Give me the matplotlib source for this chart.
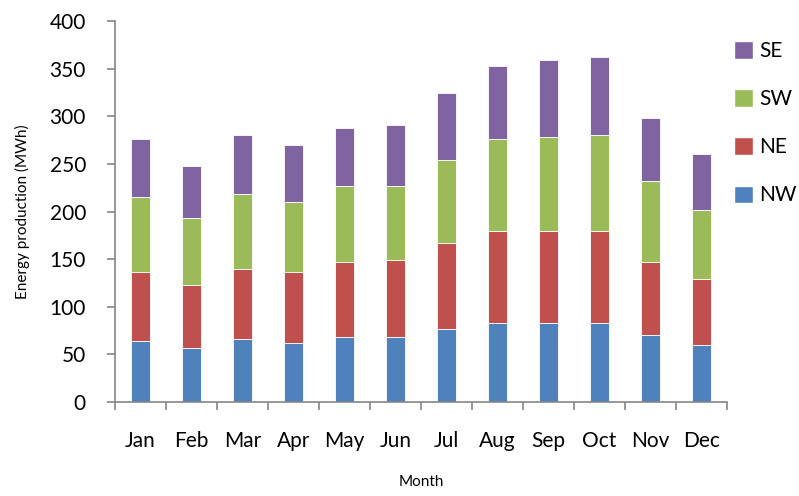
import matplotlib.pyplot as plt
import numpy as np
from matplotlib.patches import Patch

plt.rcParams['font.family'] = ['Lato', 'DejaVu Sans']

months = ['Jan', 'Feb', 'Mar', 'Apr', 'May', 'Jun',
          'Jul', 'Aug', 'Sep', 'Oct', 'Nov', 'Dec']
# MWh per orientation (stacked from bottom: NW, NE, SW, SE)
nw = [64, 57, 66, 62, 68.5, 68.5, 77, 83, 83, 83, 70, 59.5]
ne = [72, 66, 74, 74.5, 79, 81, 90, 97, 97, 97, 77, 70]
sw = [79, 70, 78, 74, 79, 77, 87, 96, 98, 100, 85, 72]
se = [61, 55, 62, 59, 61.5, 64, 70, 77, 81, 82, 66, 59]

series = [('NW', nw, '#4F81BD'), ('NE', ne, '#C0504D'),
          ('SW', sw, '#9BBB59'), ('SE', se, '#8064A2')]

fig = plt.figure(figsize=(7.99, 4.96), dpi=100)
ax = fig.add_axes([0.144, 0.1895, 0.766, 0.768])

x = np.arange(len(months))
bottom = np.zeros(len(months))
for name, vals, col in series:
    vals = np.array(vals)
    ax.bar(x, vals, 0.37, bottom=bottom, color=col, edgecolor='white',
           linewidth=0.6, label=name)
    bottom += vals

ax.set_xlim(-0.5, len(months) - 0.5)
ax.set_ylim(0, 400)
ax.set_yticks(np.arange(0, 401, 50))
ax.set_xticks(x)
ax.set_xticklabels(months)
ax.set_xticks(np.arange(-0.5, len(months), 1), minor=True)
ax.tick_params(axis='x', which='major', length=0, pad=21, labelsize=15)
ax.tick_params(axis='x', which='minor', length=6, color='#868686', width=1.2)
ax.tick_params(axis='y', length=6, color='#868686', width=1.2, labelsize=15, pad=15)

for s in ['top', 'right']:
    ax.spines[s].set_visible(False)
for s in ['left', 'bottom']:
    ax.spines[s].set_color('#868686')
    ax.spines[s].set_linewidth(1.2)

ax.set_xlabel('Month', fontsize=11, labelpad=17)
ax.set_ylabel('Energy production (MWh)', fontsize=11, labelpad=14)

handles = [Patch(facecolor=c, edgecolor='white') for _, _, c in series][::-1]
labels = [n for n, _, _ in series][::-1]
fig.legend(handles, labels, loc='upper left', bbox_to_anchor=(0.895, 0.955),
           frameon=False, fontsize=15, handlelength=0.9, handleheight=0.9,
           handletextpad=0.3, labelspacing=1.35)

fig.savefig('out.png', dpi=100)
